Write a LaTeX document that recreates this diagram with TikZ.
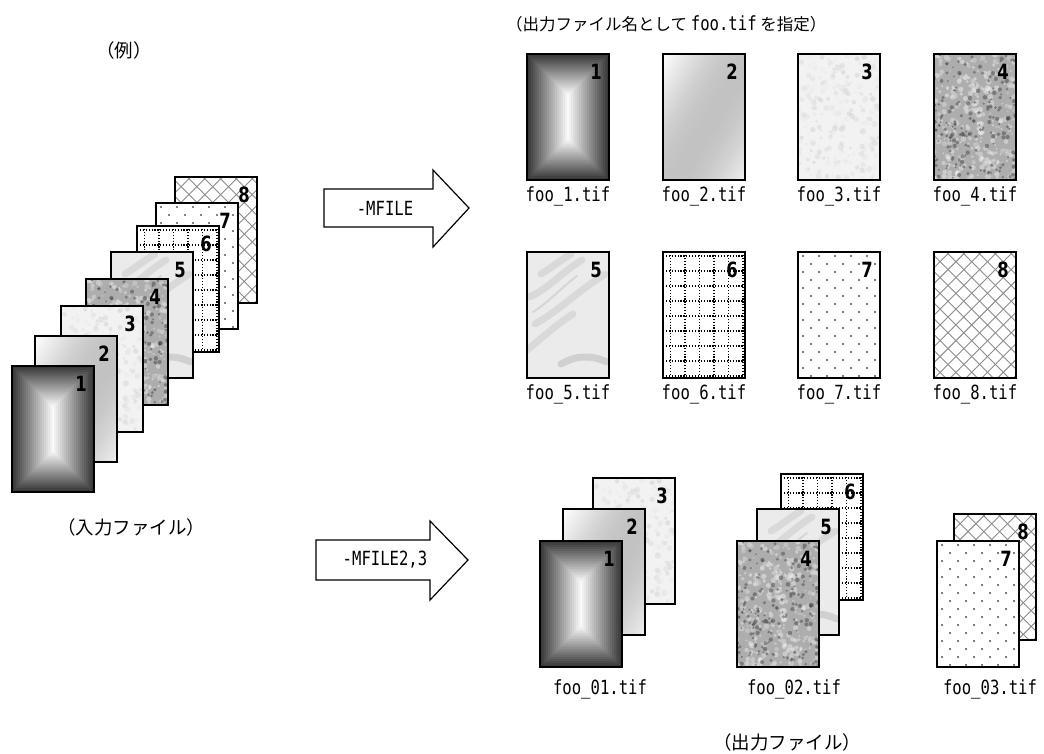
\documentclass[tikz,border=0pt]{standalone}
\usepackage{fontspec}
\newfontfamily\jpfont{Noto Sans CJK JP}
\newfontfamily\halffont{DejaVu Sans Mono}[FakeStretch=0.8]
\newfontfamily\numfont{DejaVu Sans}[FakeStretch=0.78]

\newcommand\cardw{82}
\newcommand\cardh{126}

\newcommand\texture[1]{%
  \ifcase#1\or
    \foreach \i in {0,2,...,40}{\pgfmathsetmacro\g{78-1.9*\i}\fill[black!\g] (\i,\i) rectangle (\cardw-\i,\cardh-\i);}%
  \or
    \foreach \t in {0,4,...,160}{\pgfmathsetmacro\g{24*sin(1.0625*\t)}%
      \fill[black!\g] (\t,0) -- (\t+4.6,0) -- (\t-71,\cardh) -- (\t-75.6,\cardh) -- cycle;}%
  \or
    \fill[black!5] (0,0) rectangle (\cardw,\cardh);%
    \pgfmathsetseed{31}%
    \foreach \n in {1,...,260}{\pgfmathsetmacro\px{rnd*\cardw}\pgfmathsetmacro\py{rnd*\cardh}\pgfmathsetmacro\g{6+14*rnd}%
      \fill[black!\g, opacity=.45] (\px,\py) circle ({1+2.2*rnd});}%
  \or
    \fill[black!32] (0,0) rectangle (\cardw,\cardh);%
    \pgfmathsetseed{47}%
    \foreach \n in {1,...,300}{\pgfmathsetmacro\px{rnd*\cardw}\pgfmathsetmacro\py{rnd*\cardh}\pgfmathsetmacro\g{4+14*rnd}%
      \fill[black!\g, opacity=.5] (\px,\py) circle ({1+2*rnd});}%
    \foreach \n in {1,...,190}{\pgfmathsetmacro\px{rnd*\cardw}\pgfmathsetmacro\py{rnd*\cardh}%
      \fill[black!72, opacity=.5] (\px,\py) circle ({1+1.3*rnd});}%
  \or
    \fill[black!8] (0,0) rectangle (\cardw,\cardh);%
    \draw[marble] (2,45) .. controls (20,38) and (35,20) .. (55,8);%
    \draw[marble] (8,72) .. controls (30,60) and (50,40) .. (78,22);%
    \draw[marble] (0,98) .. controls (15,86) and (30,72) .. (46,62);%
    \draw[marble] (14,22) .. controls (24,16) and (34,8) .. (44,2);%
    \draw[marble, line width=2pt, opacity=.3] (6,60) .. controls (22,50) and (36,34) .. (50,24);%
    \draw[marble, black!50] (34,112) .. controls (48,104) and (62,102) .. (80,110);%
  \or
    \fill[white] (0,0) rectangle (\cardw,\cardh);%
    \foreach \gx in {7.5,22,...,80} \draw[dotline] (\gx,0) -- (\gx,\cardh);%
    \foreach \gy in {4,19,...,126} \draw[dotline] (0,\gy) -- (\cardw,\gy);%
  \or
    \fill[white] (0,0) rectangle (\cardw,\cardh);%
    \foreach \j in {0,...,16}{\foreach \i in {0,...,5}{\pgfmathsetmacro\px{5+16*\i+8*mod(\j,2)}%
      \fill (\px,4+8*\j) circle (0.8pt);}}%
  \or
    \fill[white] (0,0) rectangle (\cardw,\cardh);%
    \foreach \c in {-130,-114.2,...,90} \draw[hatch] (\c,0) -- ++(\cardh,\cardh);%
    \foreach \c in {0,15.8,...,220} \draw[hatch] (\c,0) -- ++(-\cardh,\cardh);%
  \fi}

\newcommand\card[3]{%
  \begin{scope}[shift={#2}]
    \begin{scope}
      \clip (0,0) rectangle (\cardw,\cardh);
      \texture{#1}
    \end{scope}
    \draw[cardframe] (0,0) rectangle (\cardw,\cardh);
    \node[cardnum] (#3) at (\cardw-13,18) {#1};
  \end{scope}}

\begin{document}
\begin{tikzpicture}
      [x = 1pt, y = -1pt,
      cardframe/.style={line width = 1.5pt},
      cardnum/.style={
         font = \numfont\bfseries\fontsize{21}{21}\selectfont,
         inner sep = 0pt
      },
      jp/.style={font = \jpfont\fontsize{18.5}{22}\selectfont, inner sep = 0pt},
      fname/.style={font = \halffont\fontsize{19.5}{22}\selectfont, inner sep = 0pt},
      bigarrow/.style={line width = 1.2pt, fill = white},
      dotline/.style={line width = 1.2pt, dash pattern = on 1.2pt off 1.7pt},
      marble/.style={black!35, line width = 7pt, opacity = .25, line cap = round},
      hatch/.style={black!45, line width = .9pt}]

      \useasboundingbox (0, 0) rectangle (1044, 753);

      \node[jp] (example) at (124, 50) {（例）};
      \node[jp, font = \jpfont\fontsize{16.5}{18}\selectfont, anchor = west] (title) at (506, 24)
         {（出力ファイル名として {\halffont\fontsize{19.5}{22}\selectfont foo.tif} を指定）};

      \foreach \k/\x/\y in {8/175/177, 7/156/203, 6/137/226, 5/111/252,
         4/86/279, 3/61/306, 2/35/336, 1/12/366}
         {\card{\k}{(\x, \y)}{s\k}}
      \node[jp] (input) at (131, 527) {（入力ファイル）};

      \draw[bigarrow] (324, 189) -- (433, 189) -- (433, 170) -- (469, 208)
         -- (433, 247) -- (433, 227) -- (324, 227) -- cycle;
      \node[fname] (mfile) at (385, 208) {-MFILE};
      \draw[bigarrow] (316, 540) -- (430, 540) -- (430, 521) -- (468, 560)
         -- (430, 600) -- (430, 580) -- (316, 580) -- cycle;
      \node[fname] (mfiletwo) at (385, 560) {-MFILE2,3};

      \foreach \k/\x/\y in {1/527/54, 2/663/54, 3/798/54, 4/934/54,
         5/527/252, 6/663/252, 7/798/252, 8/934/252}
         {\card{\k}{(\x, \y)}{g\k}
          \node[fname] (f\k) at (\x + 41, \y + 142) {foo\_\k.tif};}

      \card{3}{(593, 478)}{a3}
      \card{2}{(563, 509)}{a2}
      \card{1}{(540, 541)}{a1}
      \node[fname] (fa) at (600, 689) {foo\_01.tif};

      \card{6}{(781, 474)}{b6}
      \card{5}{(757, 509)}{b5}
      \card{4}{(737, 541)}{b4}
      \node[fname] (fb) at (794, 689) {foo\_02.tif};

      \card{8}{(954, 514)}{c8}
      \card{7}{(937, 541)}{c7}
      \node[fname] (fc) at (990, 689) {foo\_03.tif};

      \node[jp] (output) at (787, 742) {（出力ファイル）};

   \end{tikzpicture}
\end{document}
